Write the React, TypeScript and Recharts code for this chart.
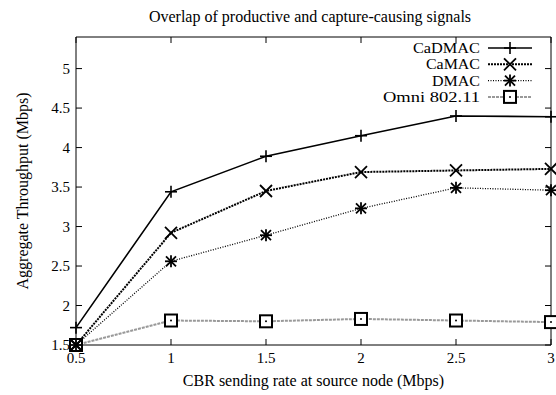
import React from "react";
import { LineChart, Line, XAxis, YAxis } from "recharts";

const rates = [0.5, 1, 1.5, 2, 2.5, 3];
const cadmac = [1.72, 3.44, 3.89, 4.15, 4.4, 4.39];
const camac = [1.5, 2.92, 3.45, 3.69, 3.71, 3.73];
const dmac = [1.5, 2.56, 2.89, 3.23, 3.49, 3.46];
const omni = [1.5, 1.81, 1.8, 1.83, 1.81, 1.79];
const yTicks = [1.5, 2, 2.5, 3, 3.5, 4, 4.5, 5];

const data = rates.map((r, i) => ({
  rate: r,
  cadmac: cadmac[i],
  camac: camac[i],
  dmac: dmac[i],
  omni: omni[i],
}));

const FONT = "Liberation Serif";
const S = 6;
const TICK = 6;

const Plus = ({ cx, cy }: any) => (
  <g stroke="#000" strokeWidth={1.6}>
    <line x1={cx - S} y1={cy} x2={cx + S} y2={cy} />
    <line x1={cx} y1={cy - S} x2={cx} y2={cy + S} />
  </g>
);

const Cross = ({ cx, cy }: any) => (
  <g stroke="#000" strokeWidth={1.8}>
    <line x1={cx - S} y1={cy - S} x2={cx + S} y2={cy + S} />
    <line x1={cx - S} y1={cy + S} x2={cx + S} y2={cy - S} />
  </g>
);

const Star = ({ cx, cy }: any) => (
  <g stroke="#000" strokeWidth={1.8}>
    <line x1={cx - S} y1={cy} x2={cx + S} y2={cy} />
    <line x1={cx} y1={cy - S} x2={cx} y2={cy + S} />
    <line x1={cx - 5} y1={cy - 5} x2={cx + 5} y2={cy + 5} />
    <line x1={cx - 5} y1={cy + 5} x2={cx + 5} y2={cy - 5} />
  </g>
);

const Box = ({ cx, cy }: any) => (
  <g>
    <rect x={cx - S} y={cy - S} width={S * 2} height={S * 2} fill="#fff" stroke="#000" strokeWidth={2} />
    <circle cx={cx} cy={cy} r={1} fill="#000" />
  </g>
);

// labelW: width the legend text is stretched to (the source font is wide)
const series = [
  { key: "omni", name: "Omni 802.11", color: "#999", width: 2, dash: "3 1", Dot: Box, labelW: 97 },
  { key: "dmac", name: "DMAC", color: "#000", width: 1.3, dash: "1 1.5", Dot: Star, labelW: 48 },
  { key: "camac", name: "CaMAC", color: "#000", width: 2, dash: "2 1", Dot: Cross, labelW: 54 },
  { key: "cadmac", name: "CaDMAC", color: "#000", width: 1.6, dash: undefined, Dot: Plus, labelW: 67 },
];

// inward ticks drawn by hand, labels beside them
const LeftTick = ({ x, y, payload }: any) => (
  <g>
    <line x1={x + 6} y1={y} x2={x + 6 + TICK} y2={y} stroke="#000" />
    <text x={x} y={y} textAnchor="end" dominantBaseline="central" fontSize={15} fontFamily={FONT} fill="#000">
      {payload.value}
    </text>
  </g>
);

const BottomTick = ({ x, y, payload }: any) => (
  <g>
    <line x1={x} y1={y - 8} x2={x} y2={y - 8 - TICK} stroke="#000" />
    <text x={x} y={y + 5} textAnchor="middle" dominantBaseline="central" fontSize={15} fontFamily={FONT} fill="#000">
      {payload.value}
    </text>
  </g>
);

const TopTick = ({ x, y }: any) => <line x1={x} y1={y} x2={x} y2={y + TICK} stroke="#000" />;
const RightTick = ({ x, y }: any) => <line x1={x} y1={y} x2={x - TICK} y2={y} stroke="#000" />;

export default function App() {
  const legend = [...series].reverse();
  return (
    <div style={{ position: "absolute", left: 0, top: 0, width: 556, height: 395, background: "#fff" }}>
      <LineChart width={556} height={395} data={data} margin={{ top: 36, right: 4, bottom: 0, left: 0 }}>
        <XAxis
          dataKey="rate"
          type="number"
          domain={[0.5, 3]}
          ticks={rates}
          interval={0}
          stroke="#000"
          tickLine={false}
          tickSize={0}
          tickMargin={8}
          height={50}
          tick={<BottomTick />}
          label={{ value: "CBR sending rate at source node (Mbps)", position: "insideBottom", offset: 9, fill: "#000", fontSize: 16, fontFamily: FONT }}
        />
        <XAxis
          xAxisId="top"
          dataKey="rate"
          type="number"
          domain={[0.5, 3]}
          ticks={rates}
          interval={0}
          orientation="top"
          height={1}
          stroke="#000"
          tickLine={false}
          tickSize={0}
          tickMargin={0}
          tick={<TopTick />}
        />
        <YAxis
          type="number"
          domain={[1.5, 5.4]}
          ticks={yTicks}
          interval={0}
          stroke="#000"
          tickLine={false}
          tickSize={0}
          tickMargin={6}
          width={76}
          tick={<LeftTick />}
          label={{ value: "Aggregate Throughput (Mbps)", angle: -90, position: "insideLeft", offset: 22, fill: "#000", fontSize: 16, fontFamily: FONT, style: { textAnchor: "middle" } }}
        />
        <YAxis
          yAxisId="right"
          type="number"
          domain={[1.5, 5.4]}
          ticks={yTicks}
          interval={0}
          orientation="right"
          width={1}
          stroke="#000"
          tickLine={false}
          tickSize={0}
          tickMargin={0}
          tick={<RightTick />}
        />
        {/* keeps the mirrored frame axes in use */}
        <Line xAxisId="top" yAxisId="right" dataKey="omni" stroke="none" dot={false} activeDot={false} legendType="none" isAnimationActive={false} />
        {series.map((s) => (
          <Line
            key={s.key}
            dataKey={s.key}
            stroke={s.color}
            strokeWidth={s.width}
            strokeDasharray={s.dash}
            dot={<s.Dot />}
            activeDot={false}
            isAnimationActive={false}
          />
        ))}
      </LineChart>
      <svg width={556} height={395} style={{ position: "absolute", left: 0, top: 0, pointerEvents: "none" }} fontFamily={FONT}>
        <text x={310} y={16} textAnchor="middle" dominantBaseline="central" fontSize={16} fill="#000">
          Overlap of productive and capture-causing signals
        </text>
        {legend.map((s, i) => {
          const y = 48 + i * 16.3;
          return (
            <g key={s.key}>
              <text
                x={480 - s.labelW}
                y={y}
                dominantBaseline="central"
                fontSize={14.5}
                fill="#000"
                textLength={s.labelW}
                lengthAdjust="spacingAndGlyphs"
              >
                {s.name}
              </text>
              <line x1={488} y1={y} x2={532} y2={y} stroke={s.color} strokeWidth={s.width} strokeDasharray={s.dash} />
              <s.Dot cx={510} cy={y} />
            </g>
          );
        })}
      </svg>
    </div>
  );
}
